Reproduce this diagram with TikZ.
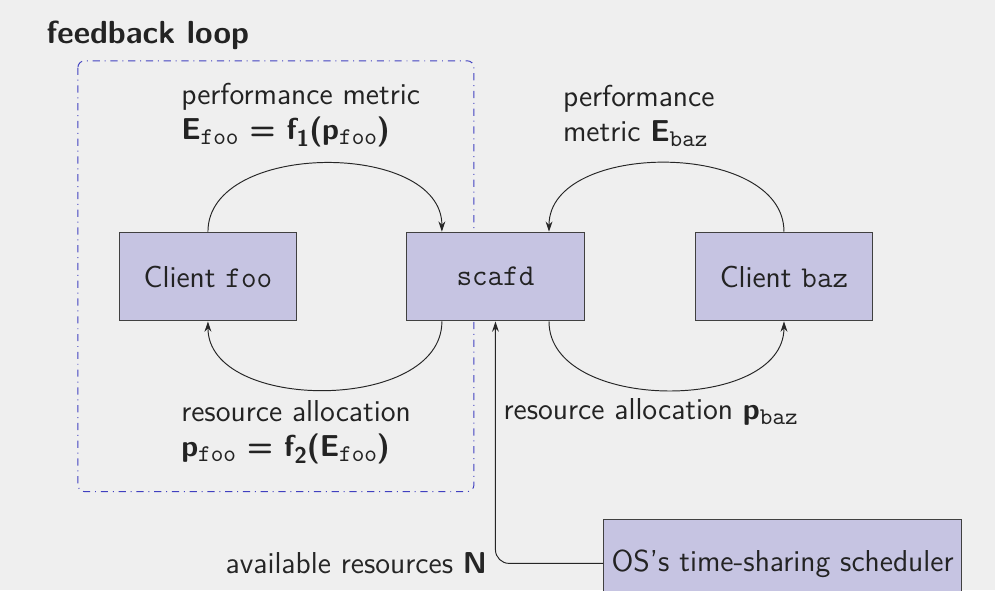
\documentclass[tikz,border=0pt]{standalone}
\usepackage{tikz}
\usetikzlibrary{arrows.meta,positioning,calc}
\usepackage{xcolor}
\renewcommand{\familydefault}{\sfdefault}
\definecolor{pagegray}{RGB}{239,239,239}
\definecolor{boxlilac}{RGB}{198,196,226}
\definecolor{loopblue}{RGB}{64,64,192}
\definecolor{inkgray}{RGB}{35,35,35}
\newcommand{\tts}[1]{\raisebox{-2pt}{\fontsize{10}{12}\selectfont\mdseries\ttfamily #1}}
\newcommand{\nsub}[1]{\raisebox{-3pt}{\fontsize{9.5}{11}\selectfont #1}}

\begin{document}
\begin{tikzpicture}[font=\fontsize{12.6}{14.6}\selectfont, text=inkgray,
    block/.style={rectangle, draw=black!75, fill=boxlilac, minimum width=2.6cm, minimum height=1.3cm},
    arr/.style={-{Stealth[length=1.5mm, width=1mm]}, thin, black!85}]

    % Page
    \path[use as bounding box, fill=pagegray] (0,0) rectangle (14.57,-8.64);

    \node[font=\fontsize{13.3}{16}\selectfont\bfseries, anchor=west] (title) at (0.56,-0.52) {feedback loop};

    % Loop frame
    \draw[loopblue, dash dot, rounded corners=1mm] (1.14,-0.89) rectangle (6.94,-7.20);

    % Blocks
    \node[block] (foo) at (3.045,-4.05) {Client \texttt{foo}};
    \node[block] (scafd) at (7.255,-4.05) {\texttt{scafd}};
    \node[block] (baz) at (11.48,-4.05) {Client \texttt{baz}};
    \node[block] (os) at (11.46,-8.25) {OS's time-sharing scheduler};

    % Ports on scafd
    \coordinate (snw) at ($(scafd.north)!0.6!(scafd.north west)$);
    \coordinate (sne) at ($(scafd.north)!0.6!(scafd.north east)$);
    \coordinate (ssw) at ($(scafd.south)!0.6!(scafd.south west)$);
    \coordinate (sse) at ($(scafd.south)!0.6!(scafd.south east)$);

    % Loops
    \draw[arr] (foo.north) to[out=90, in=90] (snw);
    \draw[arr] (ssw) to[out=-90, in=-90] (foo.south);
    \draw[arr] (baz.north) to[out=90, in=90] (sne);
    \draw[arr] (sse) to[out=-90, in=-90] (baz.south);

    % Labels
    \node[align=left, anchor=west] (perffoo) at (2.53,-1.69)
        {performance metric\\ \textbf{E\tts{foo} = f\nsub{1}(p\tts{foo})}};
    \node[align=left, anchor=west] (allocfoo) at (2.53,-6.33)
        {resource allocation\\ \textbf{p\tts{foo} = f\nsub{2}(E\tts{foo})}};
    \node[align=left, anchor=west] (perfbaz) at (8.12,-1.70)
        {performance\\ metric \textbf{E}\tts{baz}};
    \node[anchor=west] (allocbaz) at (7.25,-6.03) {resource allocation \textbf{p}\tts{baz}};

    % Resources
    \draw[arr, rounded corners=2mm] (os.west) -| node[pos=0.5, left] {available resources \textbf{N}} (scafd.south);
\end{tikzpicture}
\end{document}
